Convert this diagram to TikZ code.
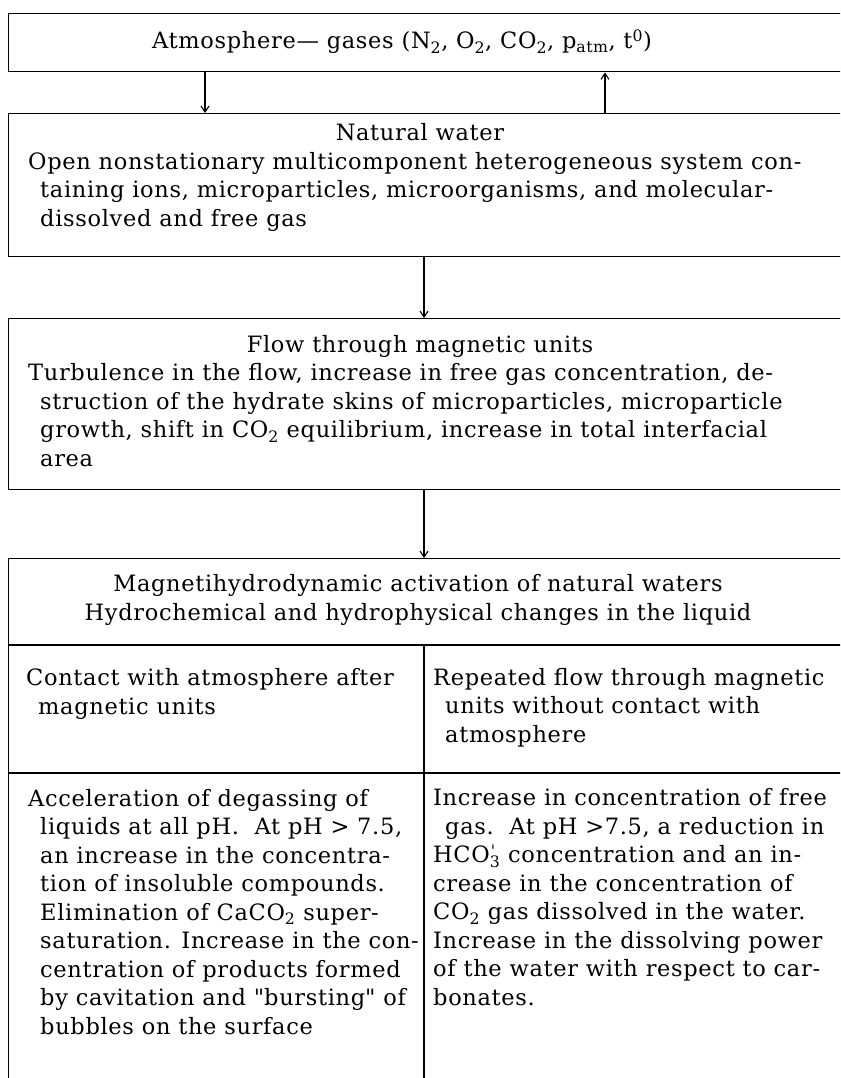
\documentclass[tikz,border=0pt]{standalone}
\usepackage{fontspec}
\setmainfont{DejaVu Serif}[LetterSpace=3]
\usetikzlibrary{arrows.meta}
\tikzset{
  box/.style={draw, line width=1.4pt, rectangle, inner sep=0pt, anchor=north west},
  txt/.style={inner sep=0pt, align=left, anchor=base west, font=\fontsize{22.5}{28.5}\selectfont},
  ctxt/.style={inner sep=0pt, align=center, anchor=base, font=\fontsize{22.5}{28.5}\selectfont},
  flow/.style={line width=1.1pt, -{Straight Barb[length=6pt,width=8pt]}},
  rule/.style={line width=1.4pt}
}
\begin{document}
\begin{tikzpicture}[x=1pt,y=-1pt]
\useasboundingbox (0,0) rectangle (840,1078);
\clip (0,0) rectangle (840,1078);
% boxes
\node[box, minimum width=850pt, minimum height=58pt] (b1) at (8,13) {};
\node[box, minimum width=850pt, minimum height=143pt] (b2) at (8,113) {};
\node[box, minimum width=850pt, minimum height=171pt] (b3) at (8,318) {};
\node[box, minimum width=850pt, minimum height=540pt] (b4) at (8,558) {};
% texts (base anchor = baseline of the last line)
\node[ctxt] (t1) at (402,49) {Atmosphere— gases (N\textsubscript{2}, O\textsubscript{2}, CO\textsubscript{2}, p\textsubscript{atm}, t\textsuperscript{0})};
\node[ctxt] (t2) at (420,141) {Natural water};
\node[txt] (t2b) at (28,226) {Open nonstationary multicomponent heterogeneous system con-\\
\hspace*{12pt}taining ions, microparticles, microorganisms, and molecular-\\
\hspace*{12pt}dissolved and free gas};
\node[ctxt] (t3) at (420,352) {Flow through magnetic units};
\node[txt] (t3b) at (28,466) {Turbulence in the flow, increase in free gas concentration, de-\\
\hspace*{12pt}struction of the hydrate skins of microparticles, microparticle\\
\hspace*{12pt}growth, shift in CO\textsubscript{2} equilibrium, increase in total interfacial\\
\hspace*{12pt}area};
\node[ctxt] (t4) at (418,620) {Magnetihydrodynamic activation of natural waters\\
Hydrochemical and hydrophysical changes in the liquid};
% table lines
\coordinate (h1l) at (8,645);
\coordinate (h1r) at (850,645);
\coordinate (h2l) at (8,773);
\coordinate (h2r) at (850,773);
\coordinate (vt) at (424,645);
\coordinate (vb) at (424,1090);
\draw[rule] (h1l) -- (h1r);
\draw[rule] (h2l) -- (h2r);
\draw[rule] (vt) -- (vb);
\node[txt] (l1) at (26,714) {Contact with atmosphere after\\
\hspace*{12pt}magnetic units};
\node[txt] (r1) at (433,742) {Repeated flow through magnetic\\
\hspace*{12pt}units without contact with\\
\hspace*{12pt}atmosphere};
\node[txt] (l2) at (28,1034) {Acceleration of degassing of\\
\hspace*{12pt}liquids at all pH.\ \ At pH > 7.5,\\
\hspace*{12pt}an increase in the concentra-\\
\hspace*{12pt}tion of insoluble compounds.\\
\hspace*{12pt}Elimination of CaCO\textsubscript{2} super-\\
\hspace*{12pt}saturation. Increase in the con-\\
\hspace*{12pt}centration of products formed\\
\hspace*{12pt}by cavitation and \textquotedbl bursting\textquotedbl\ of\\
\hspace*{12pt}bubbles on the surface};
\node[txt] (r2) at (433,1005) {Increase in concentration of free\\
\hspace*{12pt}gas.\ \ At pH >7.5, a reduction in\\
HCO\rlap{\raisebox{-2pt}{\textsuperscript{\kern1pt\textquotesingle}}}\textsubscript{3} concentration and an in-\\
crease in the concentration of\\
CO\textsubscript{2} gas dissolved in the water.\\
Increase in the dissolving power\\
of the water with respect to car-\\
bonates.};
% arrows
\draw[flow] (b1.south west -| 205,0) -- (b2.north west -| 205,0);
\draw[flow] (b2.north west -| 605,0) -- (b1.south west -| 605,0);
\draw[flow] (b2.south west -| 424,0) -- (b3.north west -| 424,0);
\draw[flow] (b3.south west -| 424,0) -- (b4.north west -| 424,0);
\end{tikzpicture}
\end{document}
